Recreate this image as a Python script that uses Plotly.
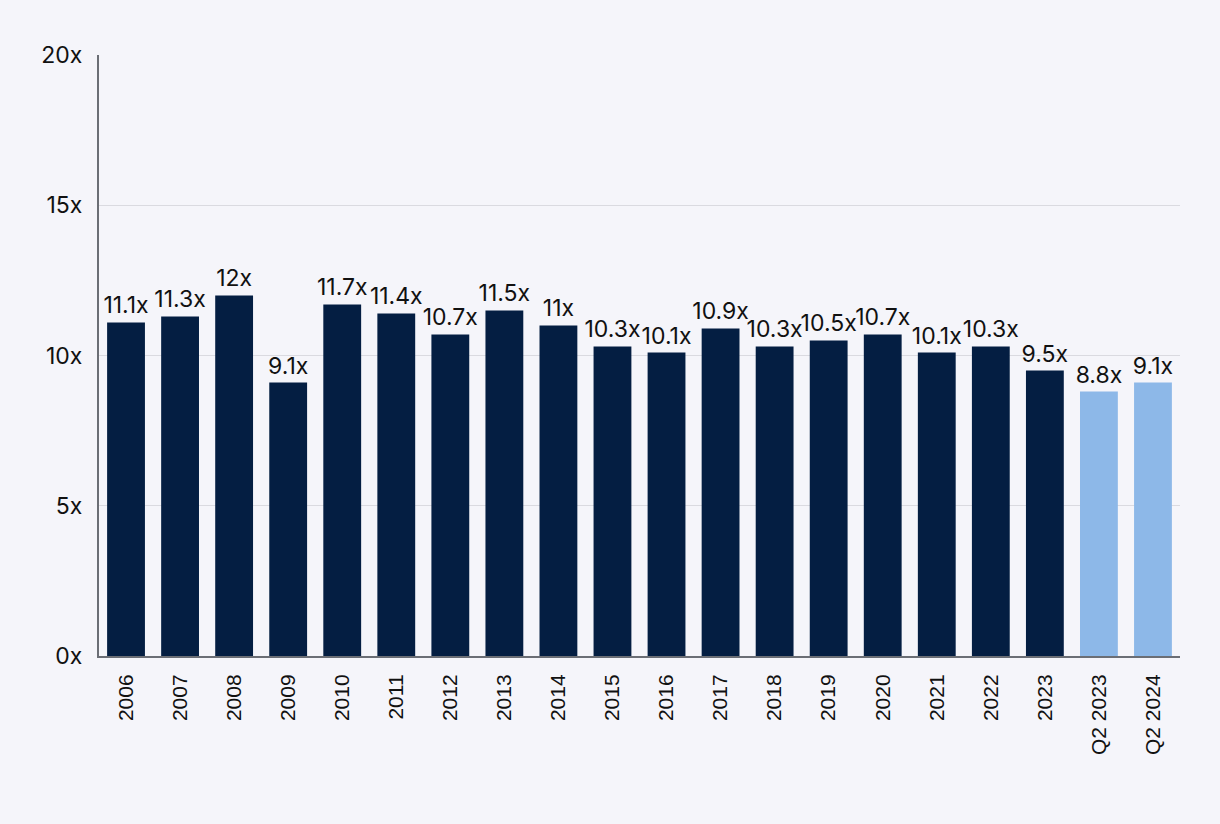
import plotly.graph_objects as go

# Data
categories = ["2006", "2007", "2008", "2009", "2010", "2011", "2012", "2013", "2014", "2015",
              "2016", "2017", "2018", "2019", "2020", "2021", "2022", "2023", "Q2 2023", "Q2 2024"]
multiples = [11.1, 11.3, 12, 9.1, 11.7, 11.4, 10.7, 11.5, 11, 10.3,
             10.1, 10.9, 10.3, 10.5, 10.7, 10.1, 10.3, 9.5, 8.8, 9.1]
tick_vals = [0, 5, 10, 15, 20]
tick_text = ["0x", "5x", "10x", "15x", "20x"]

NAVY = "#041E42"
LIGHT = "#8DB8E8"
BG = "#F5F5FA"

bar_colors = [LIGHT if c.startswith("Q2") else NAVY for c in categories]
labels = [f"{v:g}x" for v in multiples]

fig = go.Figure(
    go.Bar(
        x=categories,
        y=multiples,
        marker=dict(color=bar_colors, line=dict(width=0)),
        text=labels,
        textposition="outside",
        textfont=dict(family="Inter", size=23, color="#111111"),
        constraintext="none",
        cliponaxis=False,
        hoverinfo="skip",
    )
)

fig.update_layout(
    width=1220,
    height=824,
    margin=dict(l=99, r=40, t=55, b=168),
    plot_bgcolor=BG,
    paper_bgcolor=BG,
    bargap=0.3,
    showlegend=False,
    font=dict(family="Inter", size=20, color="#111111"),
)

fig.update_xaxes(
    type="category",
    tickangle=-90,
    tickfont=dict(family="Liberation Sans", size=21, color="#111111"),
    showline=True,
    linecolor="#6B6E75",
    linewidth=2,
    showgrid=False,
    ticks="",
    ticklabelstandoff=8,
)

fig.update_yaxes(
    range=[0, 20],
    tickvals=tick_vals,
    ticktext=tick_text,
    tickfont=dict(family="Inter", size=23, color="#111111"),
    showgrid=True,
    gridcolor="#DADAE0",
    gridwidth=1,
    zeroline=False,
    showline=True,
    linecolor="#6B6E75",
    linewidth=2,
    ticks="",
    ticklabelstandoff=10,
)

fig.write_html(
    "out.html",
    config={"displayModeBar": False},
    post_script="document.body.style.margin='0';",
)
